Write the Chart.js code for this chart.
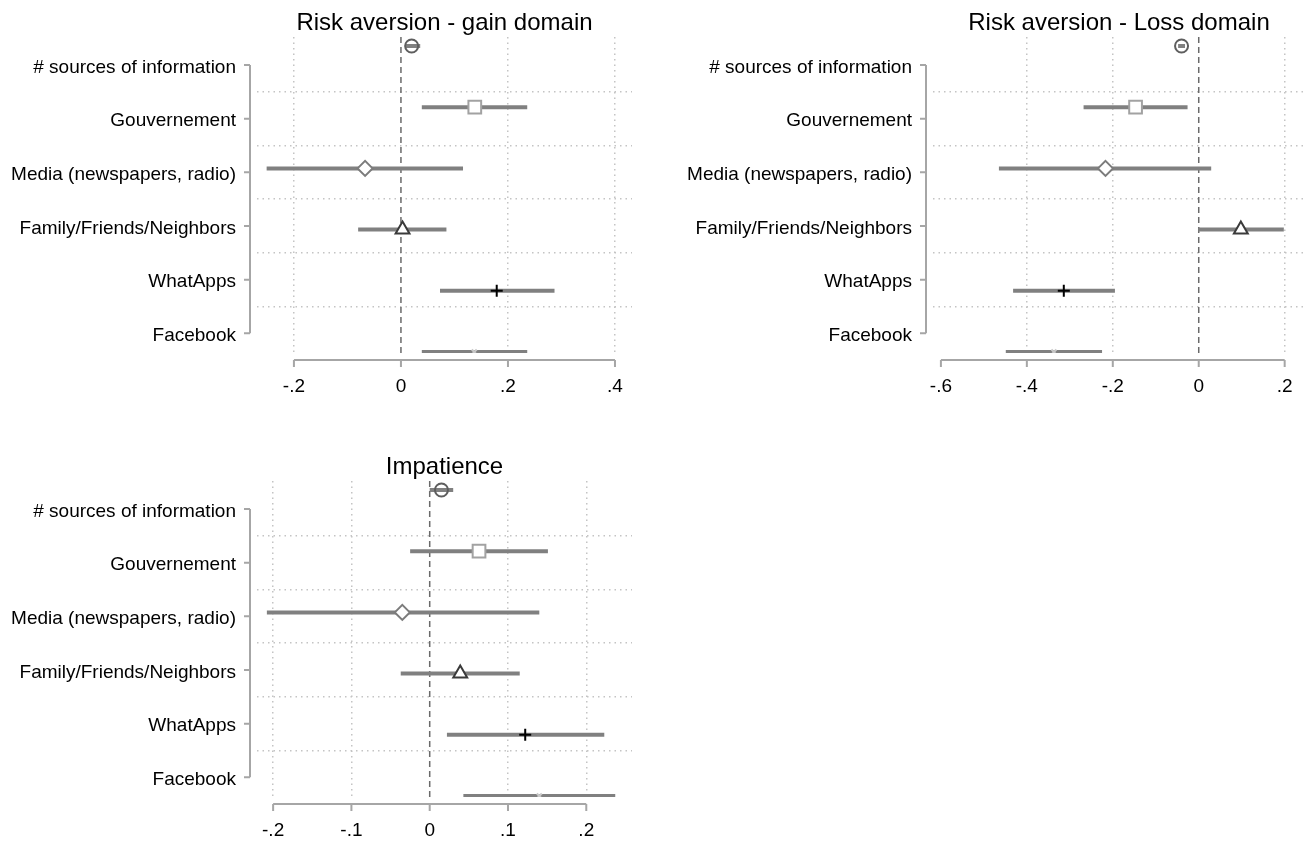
<!DOCTYPE html>
<html lang="en">
<head>
    <meta charset="UTF-8">
    <title>Sources of information - coefficient plots</title>
    <script src="https://cdn.jsdelivr.net/npm/chart.js@4.4.0/dist/chart.umd.min.js"></script>
    <style>
        body { margin: 0; background: #fff; }
        #wrap { position: relative; width: 1316px; height: 841px; overflow: hidden; background: #fff; }
        #wrap canvas { position: absolute; }
    </style>
</head>

<body>
    <div id="wrap">
        <canvas id="gain" width="650" height="410" style="left:0px;top:0px"></canvas>
        <canvas id="loss" width="658" height="410" style="left:658px;top:0px"></canvas>
        <canvas id="impatience" width="650" height="410" style="left:0px;top:444px"></canvas>
    </div>
    <script>

        // categories (top to bottom)
        const sources = ['# sources of information', 'Gouvernement', 'Media (newspapers, radio)',
                         'Family/Friends/Neighbors', 'WhatApps', 'Facebook'];

        // Risk aversion - gain domain
        const gainCoef = [0.020, 0.138, -0.067, 0.003, 0.179, 0.137];
        const gainLow  = [0.008, 0.039, -0.251, -0.080, 0.073, 0.039];
        const gainHigh = [0.036, 0.236, 0.116, 0.085, 0.287, 0.236];
        const gainTicks = [-0.2, 0, 0.2, 0.4];

        // Risk aversion - Loss domain
        const lossCoef = [-0.040, -0.147, -0.217, 0.098, -0.314, -0.337];
        const lossLow  = [-0.048, -0.268, -0.465, -0.001, -0.432, -0.449];
        const lossHigh = [-0.032, -0.026, 0.029, 0.198, -0.195, -0.225];
        const lossTicks = [-0.6, -0.4, -0.2, 0, 0.2];

        // Impatience
        const impCoef = [0.015, 0.063, -0.035, 0.039, 0.122, 0.140];
        const impLow  = [0.000, -0.025, -0.208, -0.037, 0.022, 0.043];
        const impHigh = [0.030, 0.151, 0.140, 0.115, 0.223, 0.237];
        const impTicks = [-0.2, -0.1, 0, 0.1, 0.2];

        // marker look per row
        const markerStyle = ['circle', 'rect', 'rectRot', 'triangle', 'cross', 'crossRot'];
        const markerColor = ['#5e5e5e', '#a2a2a2', '#7c7c7c', '#3a3a3a', '#000000', '#c8c8c8'];
        const markerFill  = ['rgba(0,0,0,0)', '#ffffff', '#ffffff', '#ffffff', '#000000', '#c8c8c8'];
        const markerSize  = [6.5, 9, 7.5, 8, 6, 3.5];

        // y layout: rows sit at 0..5, axis labels are spread a bit tighter (like coefplot does)
        const ROW_MIN = -0.147, ROW_MAX = 5.016;
        const LABEL_FIRST = 0.31, LABEL_STEP = 0.877;

        const GRID = '#c4c4c4';
        const AXIS = '#a6a6a6';
        Chart.defaults.font.family = "'Liberation Sans', Arial, sans-serif";
        Chart.defaults.color = '#000';

        function stataNum(v) {
            if (Math.abs(v) < 1e-9) return '0';
            const s = String(Math.round(Math.abs(v) * 100) / 100).replace(/^0/, '');
            return (v < 0 ? '-' : '') + s;
        }

        const stataAxes = {
            id: 'stataAxes',
            beforeDatasetsDraw(chart) {
                const ctx = chart.ctx, a = chart.chartArea, x = chart.scales.x;
                const x0 = x.getPixelForValue(0);
                ctx.save();
                ctx.strokeStyle = '#6a6a6a';
                ctx.lineWidth = 1.5;
                ctx.setLineDash([6, 4]);
                ctx.beginPath();
                ctx.moveTo(x0, a.top);
                ctx.lineTo(x0, a.bottom + 4);
                ctx.stroke();
                ctx.restore();
            },
            afterDraw(chart) {
                const ctx = chart.ctx, a = chart.chartArea;
                const xs = chart.scales.x, ys = chart.scales.y;
                ctx.save();
                ctx.strokeStyle = AXIS;
                ctx.lineWidth = 2;
                // x axis
                const xv = xs.ticks.map(t => xs.getPixelForValue(t.value));
                const yAx = a.bottom + 7;
                ctx.beginPath();
                ctx.moveTo(Math.min(...xv), yAx);
                ctx.lineTo(Math.max(...xv), yAx);
                xv.forEach(p => { ctx.moveTo(p, yAx); ctx.lineTo(p, yAx + 7); });
                ctx.stroke();
                // y axis
                const yv = ys.ticks.map(t => ys.getPixelForValue(t.value));
                const xAx = a.left - 7;
                ctx.beginPath();
                ctx.moveTo(xAx, Math.min(...yv));
                ctx.lineTo(xAx, Math.max(...yv));
                yv.forEach(p => { ctx.moveTo(xAx, p); ctx.lineTo(xAx - 6, p); });
                ctx.stroke();
                ctx.restore();
            }
        };

        function makePanel(id, title, coef, low, high, ticks, xMin, xMax, yWidth, rightPad) {
            const points = coef.map((c, i) => ({ x: c, y: i }));
            const bars = sources.map((s, i) => ({
                label: s,
                data: [{ x: low[i], y: i }, { x: high[i], y: i }],
                showLine: true,
                borderColor: '#808080',
                borderWidth: 4,
                borderCapStyle: 'butt',
                pointRadius: 0,
                order: 2
            }));

            return new Chart(document.getElementById(id), {
                type: 'scatter',
                data: {
                    datasets: [{
                        label: 'estimate',
                        data: points,
                        pointStyle: markerStyle,
                        pointRadius: markerSize,
                        pointBorderColor: markerColor,
                        pointBackgroundColor: markerFill,
                        pointBorderWidth: 2,
                        order: 0
                    }].concat(bars)
                },
                options: {
                    responsive: false,
                    animation: false,
                    events: [],
                    layout: { padding: { left: 0, right: rightPad, top: 0, bottom: 0 } },
                    plugins: {
                        legend: { display: false },
                        tooltip: { enabled: false },
                        title: {
                            display: true,
                            text: title,
                            fullSize: false,
                            color: '#000',
                            font: { size: 24, weight: 'normal', lineHeight: 1.1 },
                            padding: { top: 10, bottom: 0.6 }
                        }
                    },
                    scales: {
                        x: {
                            type: 'linear',
                            min: xMin,
                            max: xMax,
                            afterBuildTicks: s => { s.ticks = ticks.map(v => ({ value: v })); },
                            afterFit: s => { s.height = 57; },
                            ticks: {
                                callback: v => stataNum(v),
                                font: { size: 19 },
                                color: '#000',
                                padding: 22,
                                maxRotation: 0,
                                autoSkip: false
                            },
                            grid: {
                                drawTicks: false,
                                lineWidth: 1.5,
                                color: ctx => {
                                    const v = ctx.tick ? ctx.tick.value : 0;
                                    const p = ctx.scale.getPixelForValue(v);
                                    if (Math.abs(v) < 1e-9) return 'rgba(0,0,0,0)';
                                    if (p - ctx.scale.left < 12 || ctx.scale.right - p < 12) return 'rgba(0,0,0,0)';
                                    return GRID;
                                }
                            },
                            border: { display: false, dash: [1.5, 4] }
                        },
                        y: {
                            type: 'linear',
                            reverse: true,
                            min: ROW_MIN,
                            max: ROW_MAX,
                            afterBuildTicks: s => { s.ticks = sources.map((c, i) => ({ value: LABEL_FIRST + i * LABEL_STEP })); },
                            afterFit: s => { s.width = yWidth; },
                            ticks: {
                                callback: (v, i) => sources[i],
                                font: { size: 19 },
                                color: '#000',
                                padding: 21,
                                labelOffset: 2.5,
                                autoSkip: false
                            },
                            grid: {
                                offset: true,
                                drawTicks: false,
                                lineWidth: 1.5,
                                color: ctx => ctx.index === 0 ? 'rgba(0,0,0,0)' : GRID
                            },
                            border: { display: false, dash: [1.5, 4] }
                        }
                    }
                },
                plugins: [stataAxes]
            });
        }

        makePanel('gain', 'Risk aversion - gain domain', gainCoef, gainLow, gainHigh, gainTicks, -0.269, 0.4318, 257, 18);
        makePanel('loss', 'Risk aversion - Loss domain', lossCoef, lossLow, lossHigh, lossTicks, -0.6184, 0.2473, 275, 6);
        makePanel('impatience', 'Impatience', impCoef, impLow, impHigh, impTicks, -0.2206, 0.2584, 257, 18);

    </script>
</body>
</html>
